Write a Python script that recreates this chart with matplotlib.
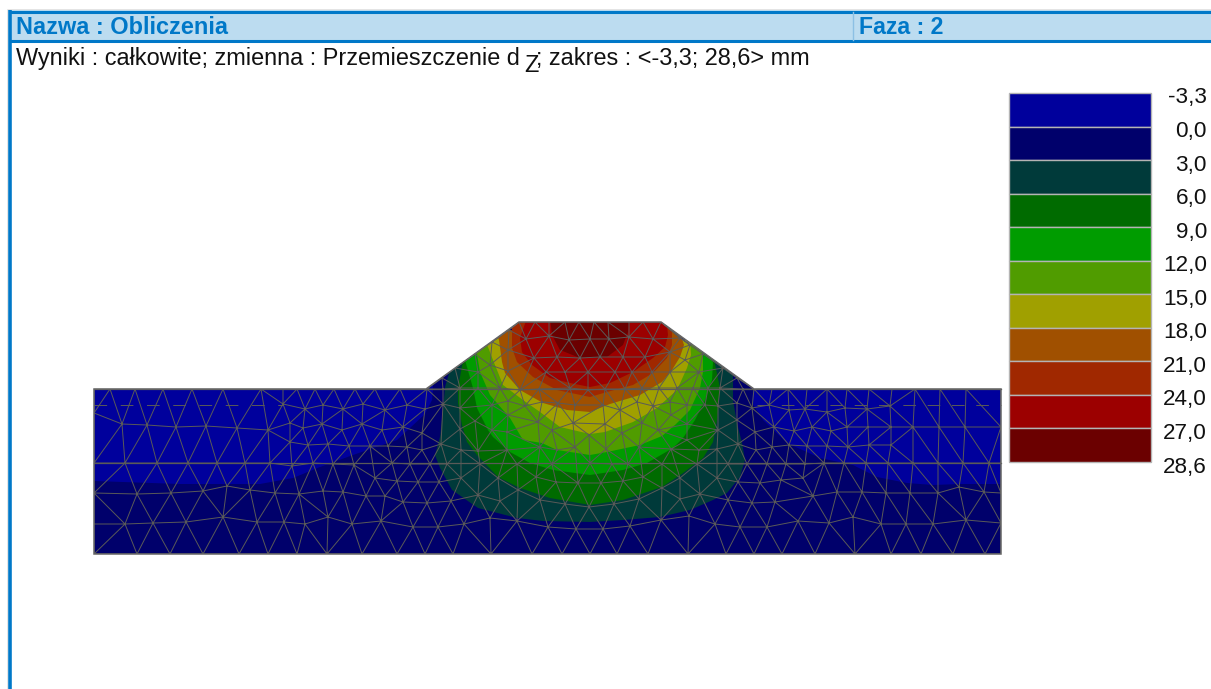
#!/usr/bin/env python3
"""Mapa przemieszczen d_z - odtworzenie wykresu (wspolrzedne w pikselach obrazu)."""

import numpy as np
import matplotlib
matplotlib.use('Agg')
import matplotlib.pyplot as plt
import matplotlib.tri as mtri
from matplotlib.patches import Polygon, Rectangle
from matplotlib.path import Path

plt.rcParams['font.family'] = ['Liberation Sans', 'DejaVu Sans']

header_left = 'Nazwa : Obliczenia'
header_right = 'Faza : 2'
result_text = 'Wyniki : całkowite; zmienna : Przemieszczenie d'
result_sub = 'Z'
result_tail = '; zakres : <-3,3; 28,6> mm'

legend_labels = ['-3,3', '0,0', '3,0', '6,0', '9,0', '12,0', '15,0', '18,0',
                 '21,0', '24,0', '27,0', '28,6']
legend_colors = ['#00009c', '#00006b', '#003a3a', '#006b00', '#009c00', '#509c00',
                 '#a0a000', '#a05000', '#a02800', '#9c0000', '#6b0000']

domain = [(94, 389), (426, 389), (519, 322), (661, 322), (754, 389), (1001, 389),
          (1001, 554), (94, 554)]

# kontury: kazdy kolejny poziom lezy na poprzednim
contour_0 = [(94, 481), (180, 484), (260, 484), (293, 478), (320, 467), (353, 455),
             (397, 440), (410, 428), (425, 414), (432, 400), (433, 389), (435, 300),
             (753, 300), (753, 389), (752, 403), (763, 420), (787, 443), (820, 458),
             (853, 465), (877, 477), (907, 483), (933, 485), (960, 484), (1010, 484),
             (1010, 560), (90, 560)]
contour_3 = [(453, 360), (445, 387), (443, 410), (440, 437), (435, 455), (440, 468),
             (452, 490), (478, 508), (517, 518), (543, 521), (590, 522), (623, 520),
             (660, 517), (690, 510), (713, 500), (727, 493), (740, 477), (745, 460),
             (742, 443), (737, 423), (733, 400), (733, 375), (725, 360)]
contour_6 = [(465, 350), (458, 388), (458, 403), (462, 425), (467, 442), (477, 455),
             (498, 477), (520, 488), (550, 498), (590, 505), (623, 500), (662, 487),
             (683, 473), (703, 458), (713, 442), (717, 420), (720, 388), (713, 355)]
contour_9 = [(462, 350), (465, 360), (473, 388), (477, 408), (488, 430), (493, 437),
             (510, 452), (530, 463), (553, 470), (590, 475), (623, 470), (647, 463),
             (673, 448), (683, 438), (695, 420), (705, 400), (712, 380), (713, 362),
             (705, 350)]
contour_12 = [(470, 345), (477, 354), (480, 372), (490, 395), (510, 418), (523, 440),
              (542, 443), (557, 450), (590, 455), (607, 452), (640, 445), (662, 436),
              (675, 425), (690, 410), (700, 388), (703, 372), (703, 354), (695, 340)]
contour_15 = [(480, 335), (488, 347), (493, 360), (503, 385), (523, 400), (540, 412),
              (560, 427), (590, 434), (605, 432), (633, 422), (657, 408), (677, 390),
              (687, 368), (691, 355), (690, 340)]
contour_18 = [(495, 330), (499, 340), (502, 362), (505, 373), (520, 390), (543, 403),
              (567, 410), (590, 412), (610, 404), (640, 395), (662, 382), (672, 370),
              (680, 357), (684, 345), (680, 332)]
contour_21 = [(512, 318), (512, 348), (517, 362), (533, 377), (557, 390), (590, 397),
              (607, 392), (633, 385), (653, 373), (667, 358), (672, 345), (672, 330),
              (665, 318)]
contour_24 = [(527, 318), (520, 338), (522, 352), (532, 365), (550, 378), (570, 383),
              (590, 387), (610, 383), (633, 372), (653, 358), (665, 347), (668, 335),
              (667, 325), (657, 318)]
contour_27 = [(550, 318), (552, 335), (560, 350), (580, 358), (590, 358), (607, 357),
              (623, 345), (628, 332), (630, 318)]
contours = [contour_0, contour_3, contour_6, contour_9, contour_12, contour_15,
            contour_18, contour_21, contour_24, contour_27]

# wezly siatki
nodes_edges = [(94, 389), (94, 413), (94, 463), (94, 493), (94, 524), (94, 554),
               (1001, 389), (1001, 427), (1001, 463), (1001, 493), (1001, 523), (1001, 554)]
nodes_left = [(110, 389), (135, 389), (163, 389), (192, 389), (223, 389), (261, 389),
              (283, 389), (297, 389), (315, 389), (334, 389), (355, 389), (375, 389), (400, 389),
              (283, 404), (305, 409), (323, 405), (343, 409), (363, 404), (385, 410), (407, 405),
              (122, 424), (147, 425), (176, 427), (206, 426), (237, 428), (268, 430), (290, 423),
              (303, 428), (322, 424), (342, 430), (362, 424), (382, 430), (403, 427),
              (290, 442), (308, 445), (328, 444), (349, 446), (370, 446), (388, 446), (407, 447),
              (125, 463), (157, 463), (188, 463), (217, 463), (245, 463), (270, 463), (292, 466),
              (313, 463), (333, 464), (354, 465), (392, 463), (375, 478), (397, 481), (418, 482),
              (137, 494), (171, 493), (203, 491), (227, 486), (250, 490), (275, 493), (299, 494),
              (323, 491), (343, 492), (366, 496), (385, 496), (403, 502),
              (125, 524), (153, 523), (186, 522), (223, 517), (257, 522), (284, 522), (305, 524),
              (328, 517), (352, 524), (381, 521), (413, 527),
              (137, 554), (170, 554), (203, 554), (239, 554), (268, 554), (297, 554), (327, 554),
              (362, 554), (397, 554)]
nodes_centre = [(519, 322), (535, 322), (549, 322), (565, 322), (579, 322), (594, 322),
                (608, 322), (629, 322), (643, 322), (661, 322),
                (509, 330), (492, 342), (475, 354), (455, 368), (442, 378), (427, 389),
                (680, 338), (690, 345), (703, 354), (723, 368), (737, 378), (754, 389),
                (526, 339), (549, 336), (569, 340), (590, 339), (609, 339), (629, 337), (653, 339),
                (508, 350), (534, 358), (557, 357), (580, 358), (600, 357), (623, 357), (645, 357),
                (670, 352), (490, 365), (685, 360),
                (478, 372), (508, 371), (546, 372), (565, 372), (588, 372), (615, 372), (632, 372),
                (652, 372), (670, 372), (699, 372),
                (443, 389), (460, 388), (478, 388), (500, 388), (520, 390), (539, 389), (570, 388),
                (588, 390), (605, 389), (625, 389), (642, 388), (659, 388), (677, 388), (693, 388),
                (708, 388), (720, 388), (743, 389),
                (425, 409), (443, 404), (460, 408), (492, 405), (508, 401), (525, 406), (542, 402),
                (558, 403), (575, 405), (603, 405), (620, 410), (637, 402), (653, 406), (670, 402),
                (687, 405), (705, 405), (718, 406), (737, 403), (752, 408),
                (422, 433), (460, 429), (475, 421), (492, 430), (508, 415), (538, 422), (507, 432),
                (552, 430), (573, 423), (589, 435), (605, 424), (622, 433), (642, 423), (658, 430),
                (671, 415), (687, 424), (718, 430), (737, 420), (755, 432),
                (422, 450), (441, 444), (461, 450), (478, 451), (507, 450), (540, 447), (557, 450),
                (575, 447), (606, 449), (639, 447), (657, 437), (671, 449), (687, 440), (699, 450),
                (717, 449), (738, 444), (756, 450),
                (410, 464), (430, 464), (447, 464), (480, 464), (517, 464), (552, 464), (590, 463),
                (612, 464), (628, 464), (662, 464), (697, 464), (728, 464), (747, 464),
                (418, 482), (439, 482), (461, 478), (498, 478), (536, 477), (518, 490), (556, 482),
                (578, 483), (601, 483), (623, 481), (643, 477), (662, 488), (680, 478), (717, 478),
                (738, 482), (760, 483),
                (427, 503), (451, 501), (478, 495), (500, 501), (540, 500), (565, 504), (589, 507),
                (614, 504), (639, 499), (680, 499), (700, 494), (728, 500), (752, 503),
                (438, 527), (464, 524), (490, 518), (517, 521), (548, 527), (576, 529), (603, 529),
                (630, 526), (661, 520), (689, 516), (715, 524), (740, 527),
                (425, 554), (453, 554), (491, 554), (532, 554), (562, 554), (590, 554), (617, 554),
                (648, 554), (688, 554), (726, 554)]
nodes_right = [(772, 389), (788, 389), (807, 389), (827, 389), (847, 389), (869, 389),
               (892, 389), (915, 389), (940, 389), (966, 389), (993, 389),
               (769, 405), (789, 410), (805, 409), (827, 412), (845, 408), (867, 409), (890, 406),
               (774, 427), (794, 431), (812, 427), (831, 431), (847, 427), (868, 427), (891, 427),
               (913, 427), (939, 427), (965, 427), (993, 427),
               (772, 447), (789, 445), (807, 446), (827, 446), (848, 447), (869, 445), (891, 445),
               (767, 464), (786, 464), (805, 464), (824, 463), (844, 463), (866, 463), (888, 463),
               (913, 463), (938, 463), (963, 463), (989, 463),
               (761, 483), (781, 480), (803, 478),
               (775, 502), (813, 496), (837, 492), (862, 492), (886, 493), (910, 493), (938, 493),
               (959, 487), (984, 492),
               (767, 527), (798, 521), (829, 523), (853, 517), (881, 524), (906, 524), (933, 524),
               (966, 520), (998, 522),
               (754, 554), (782, 554), (815, 554), (855, 554), (891, 554), (921, 554), (953, 554),
               (985, 554)]
layer_lines = [389, 463]
dash_line_y = 404.5

frame_color = '#0078c8'
mesh_color = '#5a5a58'

fig = plt.figure(figsize=(12.11, 6.89), dpi=100)
ax = fig.add_axes([0, 0, 1, 1])
ax.set_xlim(0, 1211)
ax.set_ylim(689, 0)
ax.axis('off')

# naglowek
ax.add_patch(Rectangle((10, 10), 1201, 31, fc='#bcdcf0', ec='none'))
ax.plot([7, 1211], [9, 9], color='#e4e4e4', lw=0.7, solid_capstyle='butt')
ax.plot([7, 7], [9, 689], color='#e4e4e4', lw=0.7, solid_capstyle='butt')
ax.plot([10, 1211], [11.5, 11.5], color=frame_color, lw=2.2, solid_capstyle='butt')
ax.plot([10, 1211], [41, 41], color=frame_color, lw=2.2, solid_capstyle='butt')
ax.plot([10, 10], [10, 689], color=frame_color, lw=2.6, solid_capstyle='butt')
ax.plot([853, 853], [12, 40], color='#8cc0e4', lw=1)
ax.text(16, 27.5, header_left, color=frame_color, fontsize=16.9, fontweight='bold', va='center')
ax.text(859, 27.5, header_right, color=frame_color, fontsize=16.7, fontweight='bold', va='center')
ax.text(16, 58.5, result_text, color='#111111', fontsize=16.9, va='center')
ax.text(524, 66, result_sub, color='#111111', fontsize=16.9, va='center')
ax.text(536, 58.5, result_tail, color='#111111', fontsize=16.9, va='center')

# mapa warstwic przycieta do obszaru modelu
domain_patch = Polygon(domain, closed=True, fc=legend_colors[0], ec='none', zorder=2)
ax.add_patch(domain_patch)
for level, contour in enumerate(contours):
    patch = Polygon(contour, closed=True, fc=legend_colors[level + 1], ec='none', zorder=3)
    ax.add_patch(patch)
    patch.set_clip_path(domain_patch)

# siatka: odczyty z roznych fragmentow moga sie pokrywac
points = []
for x, y in nodes_edges + nodes_left + nodes_centre + nodes_right:
    if all((x - px) ** 2 + (y - py) ** 2 > 100 for px, py in points):
        points.append((x, y))
points = np.array(points, dtype=float)
tri = mtri.Triangulation(points[:, 0], points[:, 1])
centroids = points[tri.triangles].mean(axis=1)
tri.set_mask(~Path(domain).contains_points(centroids))
mesh = ax.triplot(tri, color=mesh_color, lw=0.7, marker='None', zorder=4)
for line in mesh:
    line.set_clip_path(domain_patch)

for y in layer_lines:
    ax.plot([94, 1001], [y, y], color=mesh_color, lw=0.9, zorder=5)
ax.plot([94, 283], [dash_line_y, dash_line_y], color=mesh_color, lw=0.7,
        dashes=(13, 14), zorder=4)
ax.plot([757, 1001], [dash_line_y, dash_line_y], color=mesh_color, lw=0.7,
        dashes=(13, 12), zorder=4)
ax.add_patch(Polygon(domain, closed=True, fc='none', ec='#666666', lw=1.1, zorder=6))

# legenda
cell_height = (462 - 93) / len(legend_colors)
for i, color in enumerate(legend_colors):
    ax.bar(1080, cell_height, width=142, bottom=93 + i * cell_height, color=color,
           edgecolor='#b4b4b4', linewidth=1.0, zorder=3)
for i, label in enumerate(legend_labels):
    ax.text(1207, 98 + i * cell_height, label, color='#111111', fontsize=16.2,
            ha='right', va='center')

fig.savefig('out.png', dpi=100)
